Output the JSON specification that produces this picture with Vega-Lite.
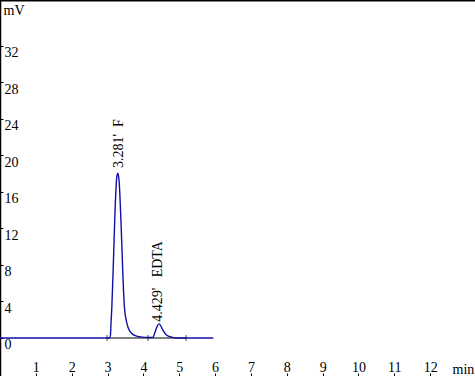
{
  "$schema": "https://vega.github.io/schema/vega-lite/v6.json",
  "width": 475,
  "height": 376,
  "padding": 0,
  "autosize": {"type": "none"},
  "background": "white",
  "config": {"view": {"stroke": null}, "font": "Liberation Serif"},
  "datasets": {
    "trace": [
      {"t": 0, "mV": 0}, {"t": 2.9, "mV": 0}, {"t": 3.06, "mV": 0}, {"t": 3.08, "mV": 0.3},
      {"t": 3.1, "mV": 1.9}, {"t": 3.12, "mV": 3.4}, {"t": 3.165, "mV": 8.5}, {"t": 3.21, "mV": 14.0},
      {"t": 3.26, "mV": 17.7}, {"t": 3.285, "mV": 18.05}, {"t": 3.32, "mV": 17.3}, {"t": 3.38, "mV": 12.2},
      {"t": 3.43, "mV": 6.7}, {"t": 3.47, "mV": 3.4}, {"t": 3.54, "mV": 1.6}, {"t": 3.63, "mV": 0.7},
      {"t": 3.77, "mV": 0.25}, {"t": 3.96, "mV": 0.1}, {"t": 4.13, "mV": 0.05}, {"t": 4.26, "mV": 0.05},
      {"t": 4.33, "mV": 0.7}, {"t": 4.38, "mV": 1.25}, {"t": 4.44, "mV": 1.55}, {"t": 4.54, "mV": 0.9},
      {"t": 4.64, "mV": 0.33}, {"t": 4.8, "mV": 0.08}, {"t": 4.9, "mV": 0}, {"t": 5.95, "mV": 0}
    ],
    "marks": [{"t": 2.985}, {"t": 4.13}, {"t": 5.19}],
    "base": [{"t": 2.985, "t2": 5.19}]
  },
  "layer": [
    {
      "data": {"name": "base"},
      "mark": {"type": "rule", "color": "black", "strokeWidth": 1},
      "encoding": {
        "x": {"field": "t", "type": "quantitative", "scale": {"domain": [0, 13.25], "nice": false, "zero": false}},
        "x2": {"field": "t2"},
        "y": {"datum": 0, "type": "quantitative", "scale": {"domain": [-4.16, 37.0], "nice": false, "zero": false}}
      }
    },
    {
      "data": {"name": "trace"},
      "mark": {"type": "line", "color": "#1010a8", "strokeWidth": 1.4, "interpolate": "monotone"},
      "encoding": {
        "x": {
          "field": "t", "type": "quantitative",
          "scale": {"domain": [0, 13.25], "nice": false, "zero": false},
          "axis": {
            "orient": "bottom", "values": [1, 2, 3, 4, 5, 6, 7, 8, 9, 10, 11, 12],
            "domain": false, "grid": false, "tickColor": "black", "tickSize": -3,
            "labelPadding": 1, "labelBaseline": "bottom", "labelFontSize": 14, "labelColor": "black",
            "labelFont": "Liberation Serif", "labelOverlap": false, "labelFlush": false, "labelBound": false,
            "title": "min", "titleAngle": 0, "titleX": 452, "titleY": 0, "titleAlign": "left",
            "titleBaseline": "bottom", "titleFontSize": 14, "titleFontWeight": "normal",
            "titleFont": "Liberation Serif", "titleColor": "black"
          }
        },
        "y": {
          "field": "mV", "type": "quantitative",
          "scale": {"domain": [-4.16, 37.0], "nice": false, "zero": false},
          "axis": {
            "orient": "left", "values": [0, 4, 8, 12, 16, 20, 24, 28, 32],
            "domain": true, "domainColor": "black", "domainWidth": 1.5, "grid": false,
            "tickColor": "black", "tickSize": -3, "labelPadding": -1, "labelAlign": "left",
            "labelBaseline": "top", "labelOffset": 0, "labelFontSize": 14, "labelColor": "black",
            "labelFont": "Liberation Serif", "labelOverlap": false, "labelFlush": false, "labelBound": false,
            "format": "d",
            "title": "mV", "titleAngle": 0, "titleX": 3, "titleY": 3, "titleAlign": "left",
            "titleBaseline": "top", "titleFontSize": 14, "titleFontWeight": "normal",
            "titleFont": "Liberation Serif", "titleColor": "black"
          }
        }
      }
    },
    {
      "data": {"name": "marks"},
      "mark": {"type": "tick", "orient": "vertical", "size": 6, "thickness": 1, "color": "black"},
      "encoding": {
        "x": {"field": "t", "type": "quantitative"},
        "y": {"datum": 0, "type": "quantitative"}
      }
    },
    {
      "data": {"values": [{"t": 37}]},
      "mark": {"type": "rule", "color": "black", "strokeWidth": 3},
      "encoding": {"y": {"field": "t", "type": "quantitative"}}
    },
    {
      "data": {"values": [{"t": 3.281, "mV": 18.05, "label": "3.281'\u00a0\u00a0F"}]},
      "mark": {"type": "text", "angle": 270, "align": "left", "baseline": "alphabetic", "dx": 5, "dy": 5, "fontSize": 14, "font": "Liberation Serif", "color": "black"},
      "encoding": {
        "x": {"field": "t", "type": "quantitative"},
        "y": {"field": "mV", "type": "quantitative"},
        "text": {"field": "label"}
      }
    },
    {
      "data": {"values": [{"t": 4.429, "mV": 1.55, "label": "4.429'\u00a0\u00a0\u00a0EDTA"}]},
      "mark": {"type": "text", "angle": 270, "align": "left", "baseline": "alphabetic", "dx": 2, "dy": 3, "fontSize": 14, "font": "Liberation Serif", "color": "black"},
      "encoding": {
        "x": {"field": "t", "type": "quantitative"},
        "y": {"field": "mV", "type": "quantitative"},
        "text": {"field": "label"}
      }
    }
  ]
}
